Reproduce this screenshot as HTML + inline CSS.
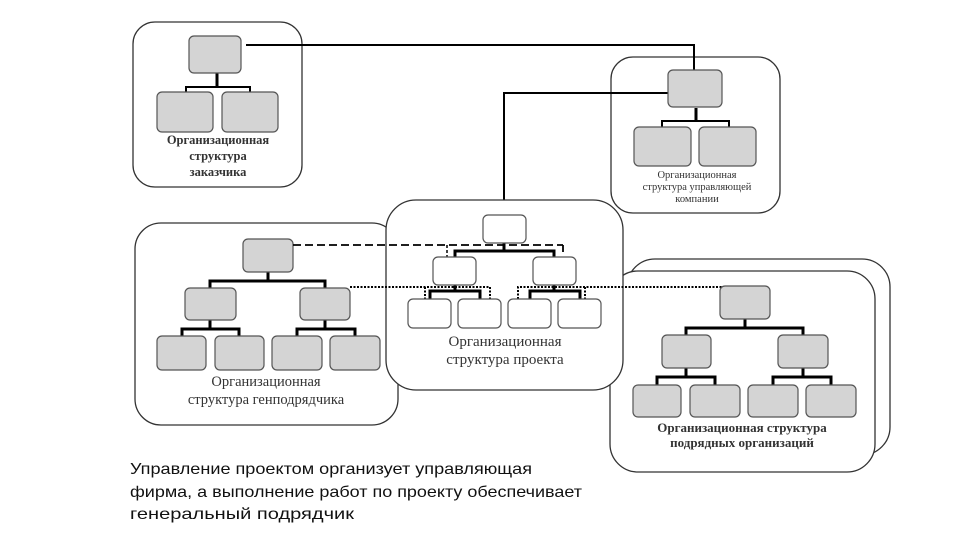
<!DOCTYPE html>
<html><head><meta charset="utf-8"><style>
html,body{margin:0;padding:0;background:#fff;width:960px;height:540px;overflow:hidden}
svg{display:block}
.b{fill:#fff;stroke:#333;stroke-width:1.3}
.g{fill:#d4d4d4;stroke:#555;stroke-width:1.2}
.w{fill:#fff;stroke:#555;stroke-width:1.2}
.k{fill:none;stroke:#000;stroke-width:3}
.t{fill:none;stroke:#000;stroke-width:2}
.s{font-family:"Liberation Serif","Noto Serif CJK SC",serif;fill:#333;text-anchor:middle}
</style></head><body>
<svg width="960" height="540" viewBox="0 0 960 540" xmlns="http://www.w3.org/2000/svg">
<!-- top-left box -->
<rect class="b" x="133" y="22" width="169" height="165" rx="22"/>
<!-- top-right box -->
<rect class="b" x="611" y="57" width="169" height="156" rx="22"/>
<!-- connectors top -->
<polyline class="t" points="246,45 694,45 694,70"/>
<polyline class="t" points="504,215 504,93 668,93"/>
<!-- left box -->
<rect class="b" x="135" y="223" width="263" height="202" rx="26"/>
<!-- right stacked -->
<rect class="b" x="627" y="259" width="263" height="196" rx="28"/>
<rect class="b" x="610" y="271" width="265" height="201" rx="28"/>
<!-- center box -->
<rect class="b" x="386" y="200" width="237" height="190" rx="30"/>

<!-- top-left tree -->
<polyline class="k" points="217,73 217,86" />
<polyline class="t" points="186,92 186,87 250,87 250,92"/>
<rect class="g" x="189" y="36" width="52" height="37" rx="5"/>
<rect class="g" x="157" y="92" width="56" height="40" rx="5"/>
<rect class="g" x="222" y="92" width="56" height="40" rx="5"/>
<text class="s" x="218" y="144" font-size="12.5" font-weight="bold">Организационная</text>
<text class="s" x="218" y="160" font-size="12.5" font-weight="bold">структура</text>
<text class="s" x="218" y="176" font-size="12.5" font-weight="bold">заказчика</text>

<!-- top-right tree -->
<polyline class="k" points="696,108 696,121"/>
<polyline class="t" points="662,127 662,121 729,121 729,127"/>
<rect class="g" x="668" y="70" width="54" height="37" rx="5"/>
<rect class="g" x="634" y="127" width="57" height="39" rx="5"/>
<rect class="g" x="699" y="127" width="57" height="39" rx="5"/>
<text class="s" x="697" y="178" font-size="10.5">Организационная</text>
<text class="s" x="697" y="190" font-size="10.5">структура управляющей</text>
<text class="s" x="697" y="202" font-size="10.5">компании</text>

<!-- left tree -->
<polyline class="k" points="268,272 268,281"/>
<polyline class="k" points="210,288 210,281 325,281 325,288"/>
<polyline class="k" points="210,320 210,329"/>
<polyline class="k" points="182,336 182,329 239,329 239,336"/>
<polyline class="k" points="325,320 325,329"/>
<polyline class="k" points="297,336 297,329 355,329 355,336"/>
<rect class="g" x="243" y="239" width="50" height="33" rx="5"/>
<rect class="g" x="185" y="288" width="51" height="32" rx="5"/>
<rect class="g" x="300" y="288" width="50" height="32" rx="5"/>
<rect class="g" x="157" y="336" width="49" height="34" rx="5"/>
<rect class="g" x="215" y="336" width="49" height="34" rx="5"/>
<rect class="g" x="272" y="336" width="50" height="34" rx="5"/>
<rect class="g" x="330" y="336" width="50" height="34" rx="5"/>
<text class="s" x="266" y="386" font-size="14.5">Организационная</text>
<text class="s" x="266" y="404" font-size="14.5">структура генподрядчика</text>

<!-- dashed / dotted links -->
<polyline fill="none" stroke="#000" stroke-width="1.8" stroke-dasharray="8,4" points="293,245 563,245"/>
<line x1="447" y1="245" x2="447" y2="258" stroke="#000" stroke-width="1.5" stroke-dasharray="3,2"/>
<line x1="563" y1="245" x2="563" y2="252" stroke="#000" stroke-width="1.8"/>
<polyline fill="none" stroke="#000" stroke-width="2" stroke-dasharray="2,1.5" points="350,287 490,287 490,299"/>
<line x1="425" y1="287" x2="425" y2="299" stroke="#000" stroke-width="2" stroke-dasharray="2,1.5"/>
<polyline fill="none" stroke="#000" stroke-width="2" stroke-dasharray="2,1.5" points="518,299 518,287 722,287"/>
<line x1="585" y1="287" x2="585" y2="299" stroke="#000" stroke-width="2" stroke-dasharray="2,1.5"/>

<!-- center tree -->
<polyline class="k" points="504,243 504,251"/>
<polyline class="k" points="455,257 455,251 554,251 554,257"/>
<polyline class="k" points="455,285 455,291"/>
<polyline class="k" points="430,299 430,291 480,291 480,299"/>
<polyline class="k" points="554,285 554,291"/>
<polyline class="k" points="530,299 530,291 580,291 580,299"/>
<rect class="w" x="483" y="215" width="43" height="28" rx="5"/>
<rect class="w" x="433" y="257" width="43" height="28" rx="5"/>
<rect class="w" x="533" y="257" width="43" height="28" rx="5"/>
<rect class="w" x="408" y="299" width="43" height="29" rx="5"/>
<rect class="w" x="458" y="299" width="43" height="29" rx="5"/>
<rect class="w" x="508" y="299" width="43" height="29" rx="5"/>
<rect class="w" x="558" y="299" width="43" height="29" rx="5"/>
<text class="s" x="505" y="346" font-size="15">Организационная</text>
<text class="s" x="505" y="364" font-size="15">структура проекта</text>

<!-- right tree -->
<polyline class="k" points="745,319 745,328"/>
<polyline class="k" points="686,335 686,328 803,328 803,335"/>
<polyline class="k" points="686,368 686,377"/>
<polyline class="k" points="657,385 657,377 715,377 715,385"/>
<polyline class="k" points="803,368 803,377"/>
<polyline class="k" points="773,385 773,377 831,377 831,385"/>
<rect class="g" x="720" y="286" width="50" height="33" rx="5"/>
<rect class="g" x="662" y="335" width="49" height="33" rx="5"/>
<rect class="g" x="778" y="335" width="50" height="33" rx="5"/>
<rect class="g" x="633" y="385" width="48" height="32" rx="5"/>
<rect class="g" x="690" y="385" width="50" height="32" rx="5"/>
<rect class="g" x="748" y="385" width="50" height="32" rx="5"/>
<rect class="g" x="806" y="385" width="50" height="32" rx="5"/>
<text class="s" x="742" y="432" font-size="13" font-weight="bold">Организационная структура</text>
<text class="s" x="742" y="447" font-size="13" font-weight="bold">подрядных организаций</text>

<!-- caption -->
<g font-family="'Liberation Sans','Noto Sans CJK SC',sans-serif" font-size="16" fill="#111">
<text x="130" y="474" textLength="402" lengthAdjust="spacingAndGlyphs">Управление проектом организует управляющая</text>
<text x="130" y="497" textLength="452" lengthAdjust="spacingAndGlyphs">фирма, а выполнение работ по проекту обеспечивает</text>
<text x="130" y="519" textLength="224" lengthAdjust="spacingAndGlyphs">генеральный подрядчик</text>
</g>
</svg>
</body></html>
